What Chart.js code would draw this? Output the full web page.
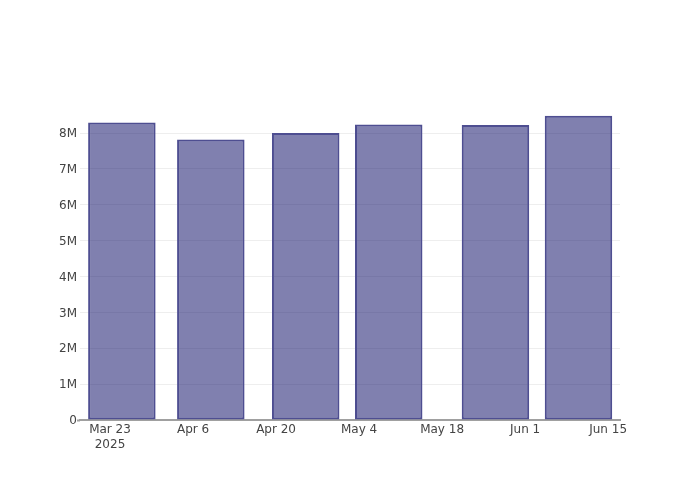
<!DOCTYPE html>
<html>
<head>
<meta charset="utf-8">
<script src="https://cdn.jsdelivr.net/npm/chart.js@4/dist/chart.umd.min.js"></script>
<style>
  html, body { margin: 0; padding: 0; background: #fff; }
  #wrap { width: 700px; height: 500px; }
</style>
</head>
<body>
<div id="wrap"><canvas id="chart" width="700" height="500"></canvas></div>
<script>
// Data
var baseDate = '2025-03-23';
var barDates = ['2025-03-25', '2025-04-09', '2025-04-25', '2025-05-09', '2025-05-27', '2025-06-10'];
var barValues = [8290000, 7820000, 8000000, 8240000, 8220000, 8480000];
var xTickDates = ['2025-03-23', '2025-04-06', '2025-04-20', '2025-05-04', '2025-05-18', '2025-06-01', '2025-06-15'];
var xTickLabels = [['Mar 23', '2025'], 'Apr 6', 'Apr 20', 'May 4', 'May 18', 'Jun 1', 'Jun 15'];
var yTicks = [0, 1000000, 2000000, 3000000, 4000000, 5000000, 6000000, 7000000, 8000000];
var yTickLabels = ['0', '1M', '2M', '3M', '4M', '5M', '6M', '7M', '8M'];

function dayOffset(d) {
  var p = d.split('-'), b = baseDate.split('-');
  return (Date.UTC(+p[0], +p[1] - 1, +p[2]) - Date.UTC(+b[0], +b[1] - 1, +b[2])) / 86400000;
}

var points = barDates.map(function (d, i) { return { x: dayOffset(d), y: barValues[i] }; });
var xTickPos = xTickDates.map(dayOffset);

new Chart(document.getElementById('chart'), {
  type: 'bar',
  data: {
    datasets: [{
      data: points,
      backgroundColor: 'rgba(23,23,110,0.55)',
      borderColor: 'rgb(78,78,145)',
      borderWidth: 2,
      borderSkipped: false,
      barPercentage: 0.813,
      categoryPercentage: 1
    }]
  },
  options: {
    responsive: false,
    animation: false,
    layout: { padding: { left: 0, right: 80, top: 100, bottom: 0 } },
    plugins: { legend: { display: false }, tooltip: { enabled: false } },
    scales: {
      x: {
        type: 'linear',
        offset: false,
        min: -5.06,
        max: 86,
        afterFit: function (s) { s.height = 80; },
        afterBuildTicks: function (s) { s.ticks = xTickPos.map(function (v) { return { value: v }; }); },
        grid: { display: false, drawTicks: false, offset: false },
        border: { display: true, color: '#a0a0a0', width: 2 },
        ticks: {
          color: '#444',
          font: { family: 'DejaVu Sans', size: 12 },
          padding: 3,
          maxRotation: 0,
          autoSkip: false,
          callback: function (v, i) { return xTickLabels[i]; }
        }
      },
      y: {
        min: 0,
        max: 8920000,
        afterFit: function (s) { s.width = 80; },
        afterBuildTicks: function (s) { s.ticks = yTicks.map(function (v) { return { value: v }; }); },
        grid: {
          drawTicks: true,
          tickLength: 3,
          tickWidth: 2,
          color: function (c) { return c.tick && c.tick.value === 0 ? 'rgba(0,0,0,0)' : '#eeeeee'; },
          tickColor: function (c) { return c.tick && c.tick.value === 0 ? '#a0a0a0' : 'rgba(0,0,0,0)'; }
        },
        border: { display: false },
        ticks: {
          color: '#444',
          font: { family: 'DejaVu Sans', size: 12 },
          padding: 0,
          labelOffset: 1,
          callback: function (v, i) { return yTickLabels[i]; }
        }
      }
    }
  }
});
</script>
</body>
</html>
